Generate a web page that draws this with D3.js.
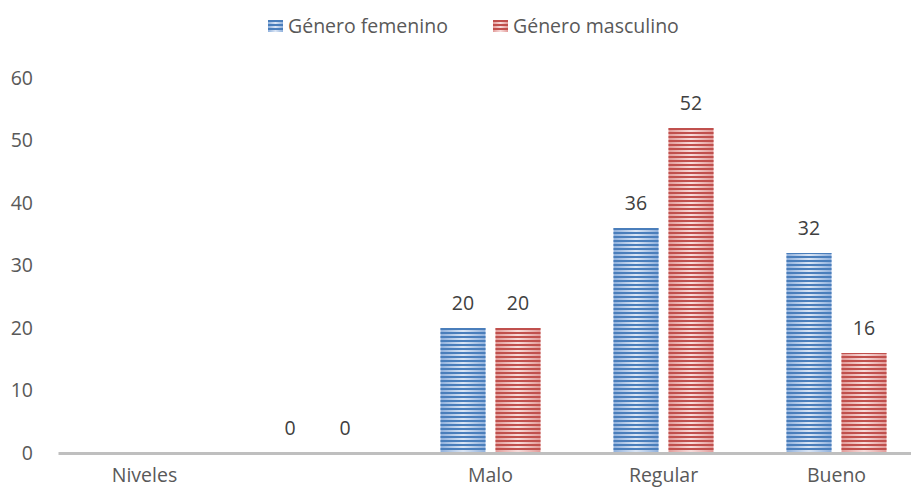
<!DOCTYPE html>
<html>
<head>
<meta charset="utf-8">
<script src="https://cdn.jsdelivr.net/npm/d3@7"></script>
<style>
  html, body { margin: 0; padding: 0; background: #fff; }
  svg { display: block; font-family: "Open Sans", "Noto Sans", sans-serif; }
</style>
</head>
<body>
<svg id="chart" width="911" height="491"></svg>
<script>
// Niveles por género
const categories = ["Niveles", "", "Malo", "Regular", "Bueno"];
const seriesNames = ["Género femenino", "Género masculino"];
const femenino = [null, 0, 20, 36, 32];
const masculino = [null, 0, 20, 52, 16];
const yTicks = [0, 10, 20, 30, 40, 50, 60];

const svg = d3.select("#chart");
const W = 911, H = 491;
const margin = { left: 58, right: -12, top: 78, bottom: 38 };
const FS = 19.5;

const x = d3.scaleBand()
  .domain(categories.map((c, i) => i))
  .range([margin.left, W - margin.right]);
const y = d3.scaleLinear()
  .domain([0, 60])
  .range([H - margin.bottom, margin.top]);

const palettes = [
  { id: "fem", dark: "#4a7ebb", edge: "#8fb0dc", mid: "#dbe6f5" },
  { id: "mas", dark: "#c0504d", edge: "#e29a98", mid: "#f8dddc" }
];

const defs = svg.append("defs");
palettes.forEach(p => {
  const g = defs.append("linearGradient")
    .attr("id", "grad-" + p.id)
    .attr("x1", "0").attr("x2", "1").attr("y1", "0").attr("y2", "0");
  g.append("stop").attr("offset", "0").attr("stop-color", p.edge);
  g.append("stop").attr("offset", "0.5").attr("stop-color", p.mid);
  g.append("stop").attr("offset", "1").attr("stop-color", p.edge);

  const pat = defs.append("pattern")
    .attr("id", "stripe-" + p.id)
    .attr("patternUnits", "userSpaceOnUse")
    .attr("width", 8).attr("height", 4);
  pat.append("rect").attr("x", 0).attr("y", 0).attr("width", 8).attr("height", 2)
    .attr("fill", p.dark);
});

// Legend
const legend = svg.append("g").attr("class", "legend");
const legendItems = [
  { name: seriesNames[0], x: 268, p: palettes[0] },
  { name: seriesNames[1], x: 493, p: palettes[1] }
];
legendItems.forEach(it => {
  legend.append("rect").attr("x", it.x).attr("y", 20).attr("width", 15).attr("height", 12)
    .attr("fill", `url(#grad-${it.p.id})`);
  legend.append("rect").attr("x", it.x).attr("y", 20).attr("width", 15).attr("height", 12)
    .attr("fill", `url(#stripe-${it.p.id})`);
  legend.append("text").attr("x", it.x + 20).attr("y", 33)
    .attr("font-size", FS).attr("fill", "#595959").text(it.name);
});

// Y axis labels (no axis line)
const yAxis = d3.axisLeft(y).tickValues(yTicks).tickSize(0).tickPadding(0);
const yg = svg.append("g").attr("transform", "translate(33,0)").call(yAxis);
yg.select(".domain").remove();
yg.selectAll("text").attr("font-size", FS).attr("fill", "#595959")
  .attr("font-family", "'Open Sans', sans-serif");

// Bars
const barW = 45, offset = 27.5;
const series = [femenino, masculino];
series.forEach((vals, s) => {
  const p = palettes[s];
  const cx = i => x(i) + x.bandwidth() / 2 + (s === 0 ? -offset : offset);
  const data = vals.map((v, i) => ({ v, i })).filter(d => d.v !== null);
  const g = svg.append("g");
  ["grad-", "stripe-"].forEach(pref => {
    g.selectAll("rect." + pref + "b")
      .data(data.filter(d => d.v > 0))
      .enter().append("rect")
      .attr("x", d => cx(d.i) - barW / 2)
      .attr("y", d => y(d.v))
      .attr("width", barW)
      .attr("height", d => y(0) - y(d.v))
      .attr("fill", `url(#${pref}${p.id})`);
  });
  g.selectAll("text.val")
    .data(data)
    .enter().append("text")
    .attr("x", d => cx(d.i))
    .attr("y", d => y(d.v) - 18)
    .attr("text-anchor", "middle")
    .attr("font-size", FS).attr("fill", "#404040")
    .text(d => d.v);
});

// X axis baseline and category labels
const xAxis = d3.axisBottom(x).tickFormat(i => categories[i]).tickSize(0).tickPadding(15);
const xg = svg.append("g").attr("transform", `translate(0,${y(0)})`).call(xAxis);
xg.select(".domain").attr("stroke", "#bfbfbf").attr("stroke-width", 3);
xg.selectAll("text").attr("font-size", FS).attr("fill", "#595959")
  .attr("font-family", "'Open Sans', sans-serif");
</script>
</body>
</html>
